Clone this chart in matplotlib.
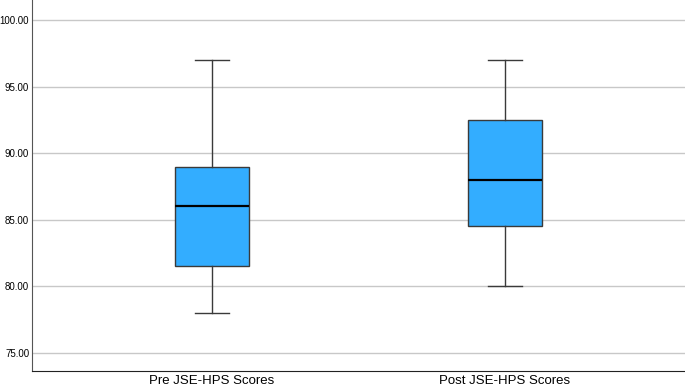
import matplotlib.pyplot as plt

labels = ['Pre JSE-HPS Scores', 'Post JSE-HPS Scores']
whislo = [78.0, 80.0]
q1 = [81.5, 84.5]
med = [86.0, 88.0]
q3 = [89.0, 92.5]
whishi = [97.0, 97.0]
yticks = [75, 80, 85, 90, 95, 100]

plt.rcParams['font.family'] = ['Liberation Sans', 'DejaVu Sans']

fig = plt.figure(figsize=(6.85, 3.88), dpi=100)
ax = fig.add_axes([32/685, 17/388, 653/685, 371/388])

stats = []
for i in range(len(labels)):
    stats.append({'label': labels[i], 'whislo': whislo[i], 'q1': q1[i], 'med': med[i],
                  'q3': q3[i], 'whishi': whishi[i], 'fliers': []})

ax.bxp(stats, positions=[0, 1], widths=0.25, capwidths=0.115, patch_artist=True,
       boxprops=dict(facecolor='#33adff', edgecolor='#3a3a3a', linewidth=1.0),
       medianprops=dict(color='black', linewidth=1.6),
       whiskerprops=dict(color='#3a3a3a', linewidth=1.0),
       capprops=dict(color='#3a3a3a', linewidth=1.0),
       zorder=3)

ax.set_xlim(-0.614, 1.614)
ax.set_ylim(73.65, 101.5)
ax.set_yticks(yticks)
ax.set_yticklabels(['%.2f' % v for v in yticks], fontsize=7)
ax.set_xticks([0, 1])
ax.set_xticklabels(labels, fontsize=9.5)
ax.tick_params(axis='y', length=0, pad=2)
ax.tick_params(axis='x', length=0, pad=3)
ax.yaxis.grid(True, color='#c8c8c8', linewidth=1.0, zorder=0)
ax.set_axisbelow(True)
for s in ['top', 'right']:
    ax.spines[s].set_visible(False)
ax.spines['left'].set_color('#555555')
ax.spines['bottom'].set_color('#222222')

fig.savefig('out.png', dpi=100)
